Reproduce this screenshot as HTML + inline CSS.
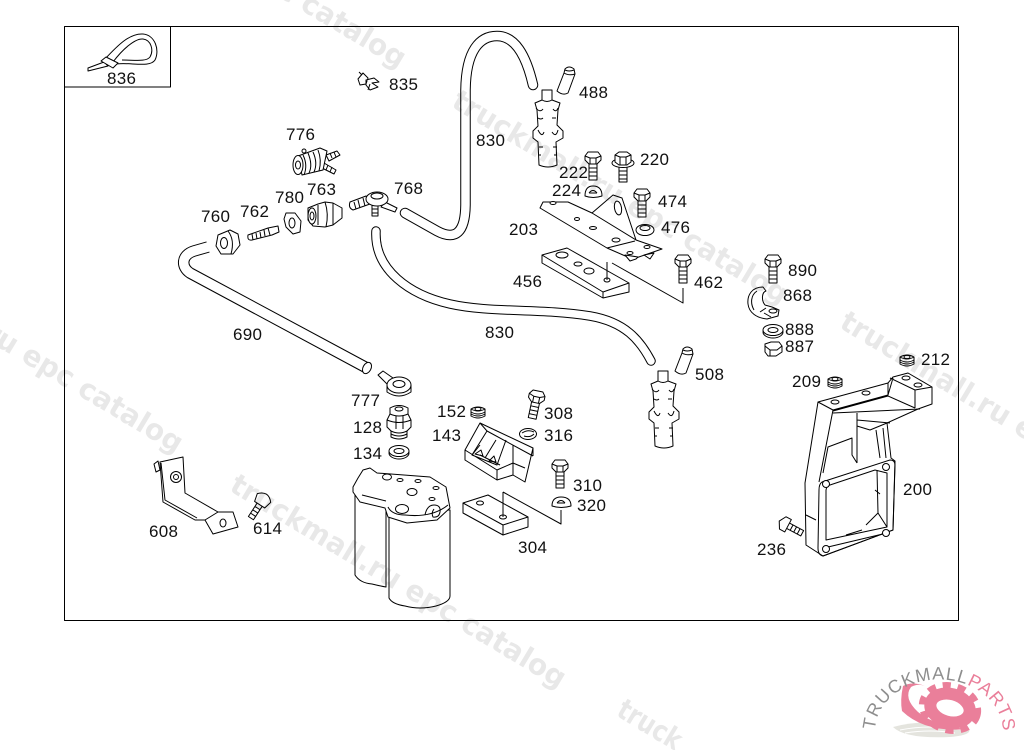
<!DOCTYPE html>
<html><head><meta charset="utf-8"><style>
html,body{margin:0;padding:0;background:#fff;width:1024px;height:750px;overflow:hidden}
#c{width:1024px;height:750px;overflow:hidden;position:relative}
svg{display:block}
.l text{font:17px "Liberation Sans",sans-serif;letter-spacing:.3px;fill:#111}
.p path,.p ellipse,.p circle,.p rect,.p polygon,.p use{stroke:#000;stroke-width:1;fill:#fff;stroke-linejoin:round}
.p .n{fill:none}
.w text{font:bold 29px "DejaVu Sans",sans-serif;fill:#000;opacity:.085}
</style></head><body><div id="c">
<svg width="1024" height="750" viewBox="0 0 1024 750" xmlns="http://www.w3.org/2000/svg">
<defs>
<g id="bolt"><path d="M-4,12V28H4V12M-4,16H4M-4,20H4M-4,24H4" style="fill:#fff;stroke:#000"/><path d="M-8,4L-5,0H5L8,4V8L4,12H-4L-8,8Z" style="fill:#fff;stroke:#000"/><path d="M-8,4L-3,6H3L8,4M-3,6V12M3,6V12" style="fill:none;stroke:#000"/></g>
<g id="noz"><path d="M542,90H552V100L560,103 558,110 557,125 563,131V138L556,142 557,165Q548,169 539,165L538,142 533,138V131L538,126 537,110 535,103 542,100Z" style="fill:#fff;stroke:#000"/><path d="M542,100Q547,103 552,100M536,108Q540,113 543,109M553,109Q556,113 558,108M538,118Q541,120 543,118M552,118H556M538,130Q542,138 544,132M552,132Q556,138 558,130M539,147H543M553,147H557M539,155H541M554,155H557" style="fill:none;stroke:#000"/></g>
<g id="cap"><path d="M565,69Q569,65 574,69L575,74 568,93Q563,96 557,91L564,73Z" style="fill:#fff;stroke:#000"/><path d="M564,73Q569,76 575,74M565,70Q569,72 574,70" style="fill:none;stroke:#000"/></g>
<g id="nut"><path d="M-7,-3Q0,-7 7,-3V4Q0,8 -7,4Z" style="fill:#fff;stroke:#000"/><path d="M-7,-3Q0,1 7,-3M-7,0Q0,4 7,0M-7,2Q0,6 7,2" style="fill:none;stroke:#000"/><ellipse cx="0" cy="-3" rx="3" ry="1.6" style="fill:#fff;stroke:#000"/></g>
<g id="wash"><ellipse cx="0" cy="1" rx="10" ry="6" style="fill:#fff;stroke:#000"/><ellipse cx="0" cy="-1" rx="10" ry="5.5" style="fill:#fff;stroke:#000"/><ellipse cx="0" cy="-1" rx="5" ry="2.5" style="fill:#fff;stroke:#000"/></g>
</defs>
<rect width="1024" height="750" fill="#fff"/>
<g class="p">
<!-- frame -->
<rect x="64.5" y="26.5" width="894" height="594" style="fill:none"/>
<path class="n" d="M64,87H170.5V26"/>
<!-- 836 -->
<path class="n" d="M105,59C118,45 130,33 143,34C155,35 160,50 155,60C150,68 130,62 116,64"/>
<path class="n" d="M113,62C122,50 135,38 143,39C151,40 154,50 150,57C146,62 135,60 122,60"/>
<path d="M88,68L104,62 108,66 88,71Z"/><path d="M101,61L106,57 118,63 113,68Z"/>
<!-- 835 -->
<path d="M358,79L363,73 368,78 366,84 360,85ZM366,80L374,78 379,82 372,83 378,87 370,90 366,85Z"/><path class="n" d="M362,75L359,72M370,84L368,90"/>
<!-- tubes -->
<path d="M405,213L437,231Q465,246 465.5,205V90C466,50 480,36 497,36C515,36 526,55 533,85" style="fill:none;stroke-width:10.5;stroke-linecap:round"/>
<path d="M405,213L437,231Q465,246 465.5,205V90C466,50 480,36 497,36C515,36 526,55 533,85" style="fill:none;stroke:#fff;stroke-width:8.5;stroke-linecap:round"/>
<path d="M376,231C374,270 410,295 450,304C490,313 540,308 590,316C625,322 640,340 651,361" style="fill:none;stroke-width:9.5;stroke-linecap:round"/>
<path d="M376,231C374,270 410,295 450,304C490,313 540,308 590,316C625,322 640,340 651,361" style="fill:none;stroke:#fff;stroke-width:7.5;stroke-linecap:round"/>
<path d="M208,247L194,251C181,255 181,267 190,273L365,367" style="fill:none;stroke-width:11.5;stroke-linecap:butt"/>
<path d="M208,247L194,251C181,255 181,267 190,273L365,367" style="fill:none;stroke:#fff;stroke-width:9.5;stroke-linecap:round"/>
<ellipse cx="367" cy="368" rx="4" ry="6" transform="rotate(28 367 368)"/>
<!-- 776 -->
<path d="M326,155L337,151 340,155 329,161ZM324,163L336,170 334,174 322,168Z"/>
<path class="n" d="M330,153L332,158M334,152L336,157M328,165L326,170M332,167L330,172"/>
<path d="M298,156L320,148 327,151 323,170 302,175Z"/><ellipse cx="298" cy="165" rx="5" ry="9.5"/><ellipse cx="298" cy="165" rx="2.5" ry="4"/><path class="n" d="M303,155Q308,165 304,175M308,153Q313,165 309,173M313,152Q318,163 314,172M318,150Q322,160 319,171"/>
<circle cx="304" cy="151" r="2"/>
<!-- 760-763 -->
<path d="M218,235L230,230 238,234 240,245 233,254 221,254 216,246Z"/><ellipse cx="224" cy="243" rx="3.5" ry="5.5"/><path class="n" d="M228,231Q235,240 231,254"/>
<path d="M248,235L268,228 278,226 279,232 272,235 252,240Q247,241 248,235Z"/><path class="n" d="M252,234L253,240M256,233L257,239M260,232L261,238M264,230L265,236M268,228L270,235"/>
<path d="M286,213L295,213 301,221 300,232 293,234 286,227 284,219Z"/><ellipse cx="292" cy="223" rx="3" ry="5"/>
<path d="M308,208L318,204 325,202 333,203 342,208 342,218 333,225 325,227 313,226 308,220Z"/><ellipse cx="312" cy="216" rx="4" ry="8"/><ellipse cx="312" cy="216" rx="2" ry="4"/><path class="n" d="M318,205V225M325,202Q329,214 326,227M333,203V225"/>
<!-- 768 -->
<path d="M350,202L366,196 370,204 353,210Q348,208 350,202ZM385,202L397,208 395,212 381,207Z"/><path d="M372,205H378V216H372Z"/><ellipse cx="377" cy="199" rx="11" ry="7"/><ellipse cx="377" cy="196" rx="6" ry="3"/><path class="n" d="M354,202L356,209M358,200L360,208M363,198L365,206M372,209H378M372,213H378"/>
<!-- 488/508 -->
<use href="#noz"/><use href="#noz" x="116" y="281"/>
<use href="#cap"/><use href="#cap" x="118" y="280"/>
<!-- bolts -->
<use href="#bolt" x="593" y="152"/>
<use href="#bolt" x="642" y="189"/>
<use href="#bolt" x="683" y="255"/>
<use href="#bolt" x="773" y="255"/>
<use href="#bolt" x="560" y="460"/>
<use href="#bolt" transform="translate(538,391) rotate(12)"/>
<g transform="translate(623,152)"><path d="M-4,14V30H4V14M-4,19H4M-4,23H4M-4,27H4"/><ellipse cx="0" cy="11" rx="11" ry="4.5"/><path d="M-8,3L-4,0H4L8,3V10L4,13H-4L-8,10Z"/><path class="n" d="M-8,3L-3,5H3L8,3M-3,5V13M3,5V13"/></g>
<g transform="translate(264,498) rotate(33)"><path d="M-3,8V24H3V8M-3,12H3M-3,16H3M-3,20H3"/><path d="M-8,0Q0,-9 8,0L6,8H-6Z"/></g>
<g transform="translate(781,522) rotate(-62)"><path d="M-3,8V24H3V8M-3,12H3M-3,16H3M-3,20H3"/><path d="M-7,2L0,-2 7,2V8H-7Z"/></g>
<!-- washers -->
<path d="M585,196Q585,186 593,186Q602,186 602,196Q593,199 585,196Z"/><path class="n" d="M589,193Q593,188 597,193M589,193H597"/>
<ellipse cx="645" cy="230" rx="9" ry="5.5"/><ellipse cx="645" cy="228" rx="5" ry="2.5"/>
<path d="M552,506Q552,497 561,497Q571,497 571,506Q561,509 552,506Z"/><path class="n" d="M557,503Q561,498 565,503M557,503H565"/>
<ellipse cx="528" cy="434" rx="8.5" ry="5.5"/><path class="n" d="M522,433Q528,429 534,432M524,436Q530,438 534,434"/>
<use href="#wash" x="399" y="452"/>
<use href="#nut" x="478" y="412"/><use href="#nut" x="907" y="360"/><use href="#nut" x="835" y="382"/>
<!-- 203 -->
<path d="M540,208L543,202H568L592,213 613,195 622,198 636,240 662,249 633,259 623,255 607,248Z"/>
<path class="n" d="M607,248L635,241M592,213L636,240"/>
<ellipse cx="618" cy="208" rx="3.5" ry="7" transform="rotate(-10 618 208)"/>
<ellipse cx="553" cy="203" rx="3" ry="1.5"/><ellipse cx="577" cy="219" rx="2.5" ry="1.5"/><ellipse cx="593" cy="228" rx="3.5" ry="1.5"/><ellipse cx="616" cy="240" rx="4" ry="2"/><ellipse cx="647" cy="247" rx="3" ry="1.5"/><ellipse cx="630" cy="253" rx="3" ry="1.5"/>
<path d="M625,255L630,261 636,259 638,257ZM644,255L650,259 654,253Z"/>
<!-- 456 -->
<path d="M542,255L567,248 629,283 603,292ZM542,255V263L603,298 629,292V283L603,292V298"/>
<ellipse cx="562" cy="255" rx="6" ry="3"/><ellipse cx="578" cy="264" rx="4" ry="2"/><ellipse cx="589" cy="271" rx="5" ry="3"/><ellipse cx="607" cy="280" rx="3" ry="2"/>
<path class="n" d="M607,262V280M612,263L683,303V288"/>
<!-- 890 group -->
<path d="M763,287C752,287 747,295 748,304C749,313 757,318 767,319L778,316 779,310 772,307 765,305C761,300 762,292 766,291Z"/>
<path class="n" d="M757,291C751,295 750,303 754,310M766,308L760,312M764,313L771,317"/><ellipse cx="773" cy="311" rx="4" ry="2"/>
<use href="#wash" x="773" y="331"/>
<path d="M765,344L771,342H779L782,346V352L776,356H768L765,352Z"/><path class="n" d="M765,346L770,350H777L782,346M770,350V356"/>
<!-- 690 end eye 777, 128 -->
<path d="M378,375L383,371 393,378 387,384Z"/>
<path d="M387,385V392Q399,400 411,392V385Z"/><ellipse cx="399" cy="385" rx="12" ry="8"/><ellipse cx="399" cy="384" rx="6" ry="3.5"/>
<path d="M390,408Q399,403 408,408V414L411,420V427L407,431V437Q399,441 391,437V431L387,427V420L390,414Z"/><ellipse cx="399" cy="409" rx="4" ry="2"/><path class="n" d="M390,414Q399,418 408,414M387,420Q399,425 411,420M391,431Q399,435 407,431M391,434Q399,438 407,434M396,416V429M403,416V429"/>
<!-- filter -->
<path d="M355,495V575Q360,583 372,584Q380,586 386,587V505Z"/>
<path d="M389,510V598Q392,604 405,606Q420,610 436,606Q450,602 450,596V510Z"/>
<path d="M353,487L358,478 363,470 370,468 377,473 430,477 446,487 450,508 437,520 407,523 388,517 385,508 360,502 353,492Z"/>
<path class="n" d="M362,495L386,501M388,507Q392,515 405,515Q432,518 448,505"/>
<ellipse cx="387" cy="477" rx="4.5" ry="3"/><ellipse cx="400" cy="480" rx="3" ry="1.5"/><ellipse cx="412" cy="492" rx="5" ry="3.5"/><ellipse cx="418" cy="481" rx="3" ry="1.5"/><ellipse cx="436" cy="488" rx="3" ry="1.5"/><ellipse cx="432" cy="499" rx="3" ry="1.5"/><ellipse cx="402" cy="509" rx="6.5" ry="4.5"/>
<path class="n" d="M425,515Q427,505 434,505Q441,505 440,512Q439,518 433,517Q431,513 434,509"/>
<!-- 143 -->
<path d="M465,450L480,423 533,448 525,482 513,475 497,480 465,460Z"/>
<path class="n" d="M480,423L487,431 533,456M533,448V456M465,450L497,470 513,463 525,468M497,470V480M513,445V475M487,431L472,455 497,465 506,440M480,455L500,465"/>
<path class="n" d="M472,455L480,445M485,458L496,440"/>
<path class="n" d="M475,454L481,450 483,456ZM489,461L494,456 496,462Z"/>
<!-- 304 -->
<path d="M463,503L488,495 528,517 503,525ZM463,503V513L503,535 528,527V517L503,525V535"/>
<ellipse cx="480" cy="503" rx="3.5" ry="2"/><ellipse cx="503" cy="517" rx="3.5" ry="2"/>
<path class="n" d="M503,492V517M503,492L561,524V510"/>
<!-- 608 -->
<path d="M160,462L183,457 185,493 218,512 233,512 238,527 213,534 205,520 195,520 163,502Z"/>
<path class="n" d="M161,463L165,500 197,518M218,512L205,520"/>
<circle cx="176" cy="477" r="5.5"/><circle cx="176" cy="477" r="2.5"/><ellipse cx="223" cy="523" rx="3" ry="4"/>
<path d="M154,464L158,461 160,470 156,472Z"/>
<!-- 200 -->
<path d="M818,402L888,383 893,377 908,373 932,387V404L918,409 887,423 891,458 895,461 893,530 823,556 806,545 805,483Z"/>
<path class="n" d="M818,402L833,410 888,395V383M833,410L819,482M833,413L920,409M833,411L888,396 915,408M915,390V408M890,378L915,390 932,387M888,395L893,378"/>
<path class="n" d="M857,413V463M890,423L857,420V426L870,430 887,423M876,430L880,458M883,428L886,458"/>
<path class="n" d="M823,473L828,447 852,438V455L857,463M822,482L890,460Q895,460 895,465L893,530 823,556Q818,555 818,548L819,490Q819,484 822,482Z"/>
<path class="n" d="M826,490L827,486 875,470 887,473V527L826,540ZM877,470L878,513 866,525M887,527L878,513M806,515L816,520M880,494L875,490M846,535L862,530M828,547L887,533"/>
<circle cx="826" cy="484" r="3.5"/><circle cx="886" cy="467" r="3.5"/><circle cx="886" cy="533" r="3.5"/><circle cx="826" cy="549" r="3.5"/>
<ellipse cx="835" cy="402" rx="4" ry="2"/><ellipse cx="866" cy="393" rx="4" ry="2"/><ellipse cx="906" cy="378" rx="4" ry="2"/><ellipse cx="918" cy="385" rx="4" ry="2"/>
</g>
<g class="l">
<text x="107" y="84">836</text><text x="389" y="90">835</text><text x="286" y="140">776</text><text x="579" y="98">488</text><text x="476" y="146">830</text><text x="559" y="178">222</text><text x="640" y="165">220</text><text x="552" y="196">224</text><text x="307" y="195">763</text><text x="394" y="194">768</text><text x="275" y="203">780</text><text x="201" y="222">760</text><text x="240" y="217">762</text><text x="658" y="207">474</text><text x="661" y="233">476</text><text x="509" y="235">203</text><text x="513" y="287">456</text><text x="694" y="288">462</text><text x="788" y="276">890</text><text x="783" y="301">868</text><text x="785" y="335">888</text><text x="785" y="352">887</text><text x="921" y="365">212</text><text x="792" y="387">209</text><text x="903" y="495">200</text><text x="757" y="555">236</text><text x="233" y="340">690</text><text x="485" y="338">830</text><text x="695" y="380">508</text><text x="351" y="406">777</text><text x="353" y="433">128</text><text x="353" y="459">134</text><text x="437" y="417">152</text><text x="432" y="441">143</text><text x="544" y="419">308</text><text x="544" y="441">316</text><text x="573" y="491">310</text><text x="577" y="511">320</text><text x="518" y="553">304</text><text x="149" y="537">608</text><text x="253" y="534">614</text>
</g>
<g class="w">
<text transform="translate(68,-130) rotate(31)" textLength="386" lengthAdjust="spacingAndGlyphs">truckmall.ru epc catalog</text>
<text transform="translate(450,106) rotate(31)" textLength="386" lengthAdjust="spacingAndGlyphs">truckmall.ru epc catalog</text>
<text transform="translate(838,327) rotate(31)" textLength="222" lengthAdjust="spacingAndGlyphs">truckmall.ru e</text>
<text transform="translate(-155,255) rotate(31)" textLength="386" lengthAdjust="spacingAndGlyphs">truckmall.ru epc catalog</text>
<text transform="translate(228,490) rotate(31)" textLength="386" lengthAdjust="spacingAndGlyphs">truckmall.ru epc catalog</text>
<text transform="translate(615,715) rotate(31)" textLength="70" lengthAdjust="spacingAndGlyphs">truck</text>
</g>
<!-- logo -->
<g>
<path d="M893,727Q925,718 968,727Q975,735 950,737Q905,739 893,727Z" fill="#e4e4de"/>
<path d="M900,730Q930,724 962,730M905,733Q930,729 955,733" fill="none" stroke="#fff" stroke-width="1"/>
<path d="M903,686Q900,700 902,711Q925,733 967,729Q935,726 918,712Q903,698 911,687Q918,683 925,686Q912,681 903,686Z" fill="#ea7f9a"/>
<ellipse cx="950" cy="708" rx="20" ry="14" fill="none" stroke="#ea7f9a" stroke-width="12" transform="rotate(15 950 708)"/>
<ellipse cx="950" cy="708" rx="28" ry="22" fill="none" stroke="#ea7f9a" stroke-width="7" stroke-dasharray="8 7" transform="rotate(15 950 708)"/>
<path id="arc" d="M875,730A64,52 0 1 1 1003,733" fill="none"/>
<text font-family="Liberation Sans,sans-serif" font-size="18" letter-spacing="1" fill="#8e8e8e"><textPath href="#arc">TRUCKMALL<tspan fill="#ea7f9a">PARTS</tspan></textPath></text>
</g>
</svg>
</div></body></html>
